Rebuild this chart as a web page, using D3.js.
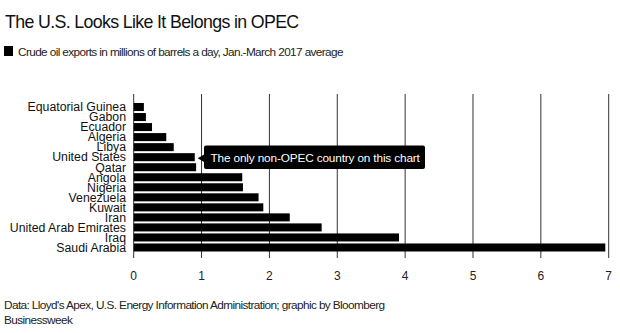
<!DOCTYPE html>
<html><head><meta charset="utf-8">
<script src="https://cdn.jsdelivr.net/npm/d3@7"></script>
<style>body{margin:0;background:#fff}svg{display:block;font-family:"Liberation Sans",Arial,sans-serif}</style>
</head><body><svg id="c" width="620" height="333"></svg>
<script>
const countries = ["Equatorial Guinea","Gabon","Ecuador","Algeria","Libya","United States","Qatar","Angola","Nigeria","Venezuela","Kuwait","Iran","United Arab Emirates","Iraq","Saudi Arabia"];
const exports_ = [0.15,0.18,0.27,0.48,0.59,0.90,0.92,1.60,1.61,1.84,1.91,2.30,2.77,3.91,6.95];
const xTicks = [0,1,2,3,4,5,6,7];
const title = "The U.S. Looks Like It Belongs in OPEC";
const subtitle = "Crude oil exports in millions of barrels a day, Jan.-March 2017 average";
const note = "The only non-OPEC country on this chart";
const source = ["Data: Lloyd's Apex, U.S. Energy Information Administration; graphic by Bloomberg","Businessweek"];

const svg = d3.select("#c");
const x = d3.scaleLinear().domain([0,7]).range([133.7,608.7]);
const y = d3.scaleBand().domain(countries).range([102,252.5]).paddingInner(0.2).paddingOuter(0.1);

svg.append("text").attr("x",5).attr("y",28).attr("font-size",17.8).attr("fill","#111").attr("letter-spacing",-0.65).text(title);
svg.append("rect").attr("x",4).attr("y",46).attr("width",9).attr("height",10).attr("fill","#000");
svg.append("text").attr("x",18).attr("y",55.5).attr("font-size",11.8).attr("fill","#222").attr("letter-spacing",-0.62).text(subtitle);

// grid
svg.append("g").selectAll("line").data(xTicks).join("line")
  .attr("x1",d=>x(d)).attr("x2",d=>x(d)).attr("y1",94).attr("y2",258)
  .attr("stroke","#333").attr("stroke-width",1);

// bars
svg.append("g").selectAll("rect").data(countries).join("rect")
  .attr("x",x(0)).attr("y",d=>y(d)).attr("height",y.bandwidth())
  .attr("width",(d,i)=>x(exports_[i])-x(0)).attr("fill","#000");

// category labels
svg.append("g").selectAll("text").data(countries).join("text")
  .attr("x",126).attr("y",d=>y(d)+y.bandwidth()/2+4.3).attr("text-anchor","end")
  .attr("font-size",12.3).attr("fill","#111").text(d=>d);

// x tick labels
svg.append("g").selectAll("text").data(xTicks).join("text")
  .attr("x",d=>x(d)).attr("y",280).attr("text-anchor","middle")
  .attr("font-size",12).attr("fill","#222").text(d=>d);

// annotation
const us = countries.indexOf("United States");
const ay = y(countries[us]) + y.bandwidth()/2 + 1;
const ax = x(exports_[us]) + 3;
const g = svg.append("g");
g.append("rect").attr("x",204).attr("y",145.5).attr("width",221).attr("height",23.5).attr("rx",2).attr("fill","#000");
g.append("path").attr("d",`M${ax},${ay} L204.5,${ay-4} L204.5,${ay+4} Z`).attr("fill","#000");
g.append("text").attr("x",210.5).attr("y",161.5).attr("font-size",11.8).attr("fill","#fff").attr("letter-spacing",-0.15).text(note);

svg.append("g").selectAll("text").data(source).join("text")
  .attr("x",4).attr("y",(d,i)=>309+i*15).attr("font-size",11.8).attr("fill","#222").attr("letter-spacing",-0.6).text(d=>d);
</script></body></html>
